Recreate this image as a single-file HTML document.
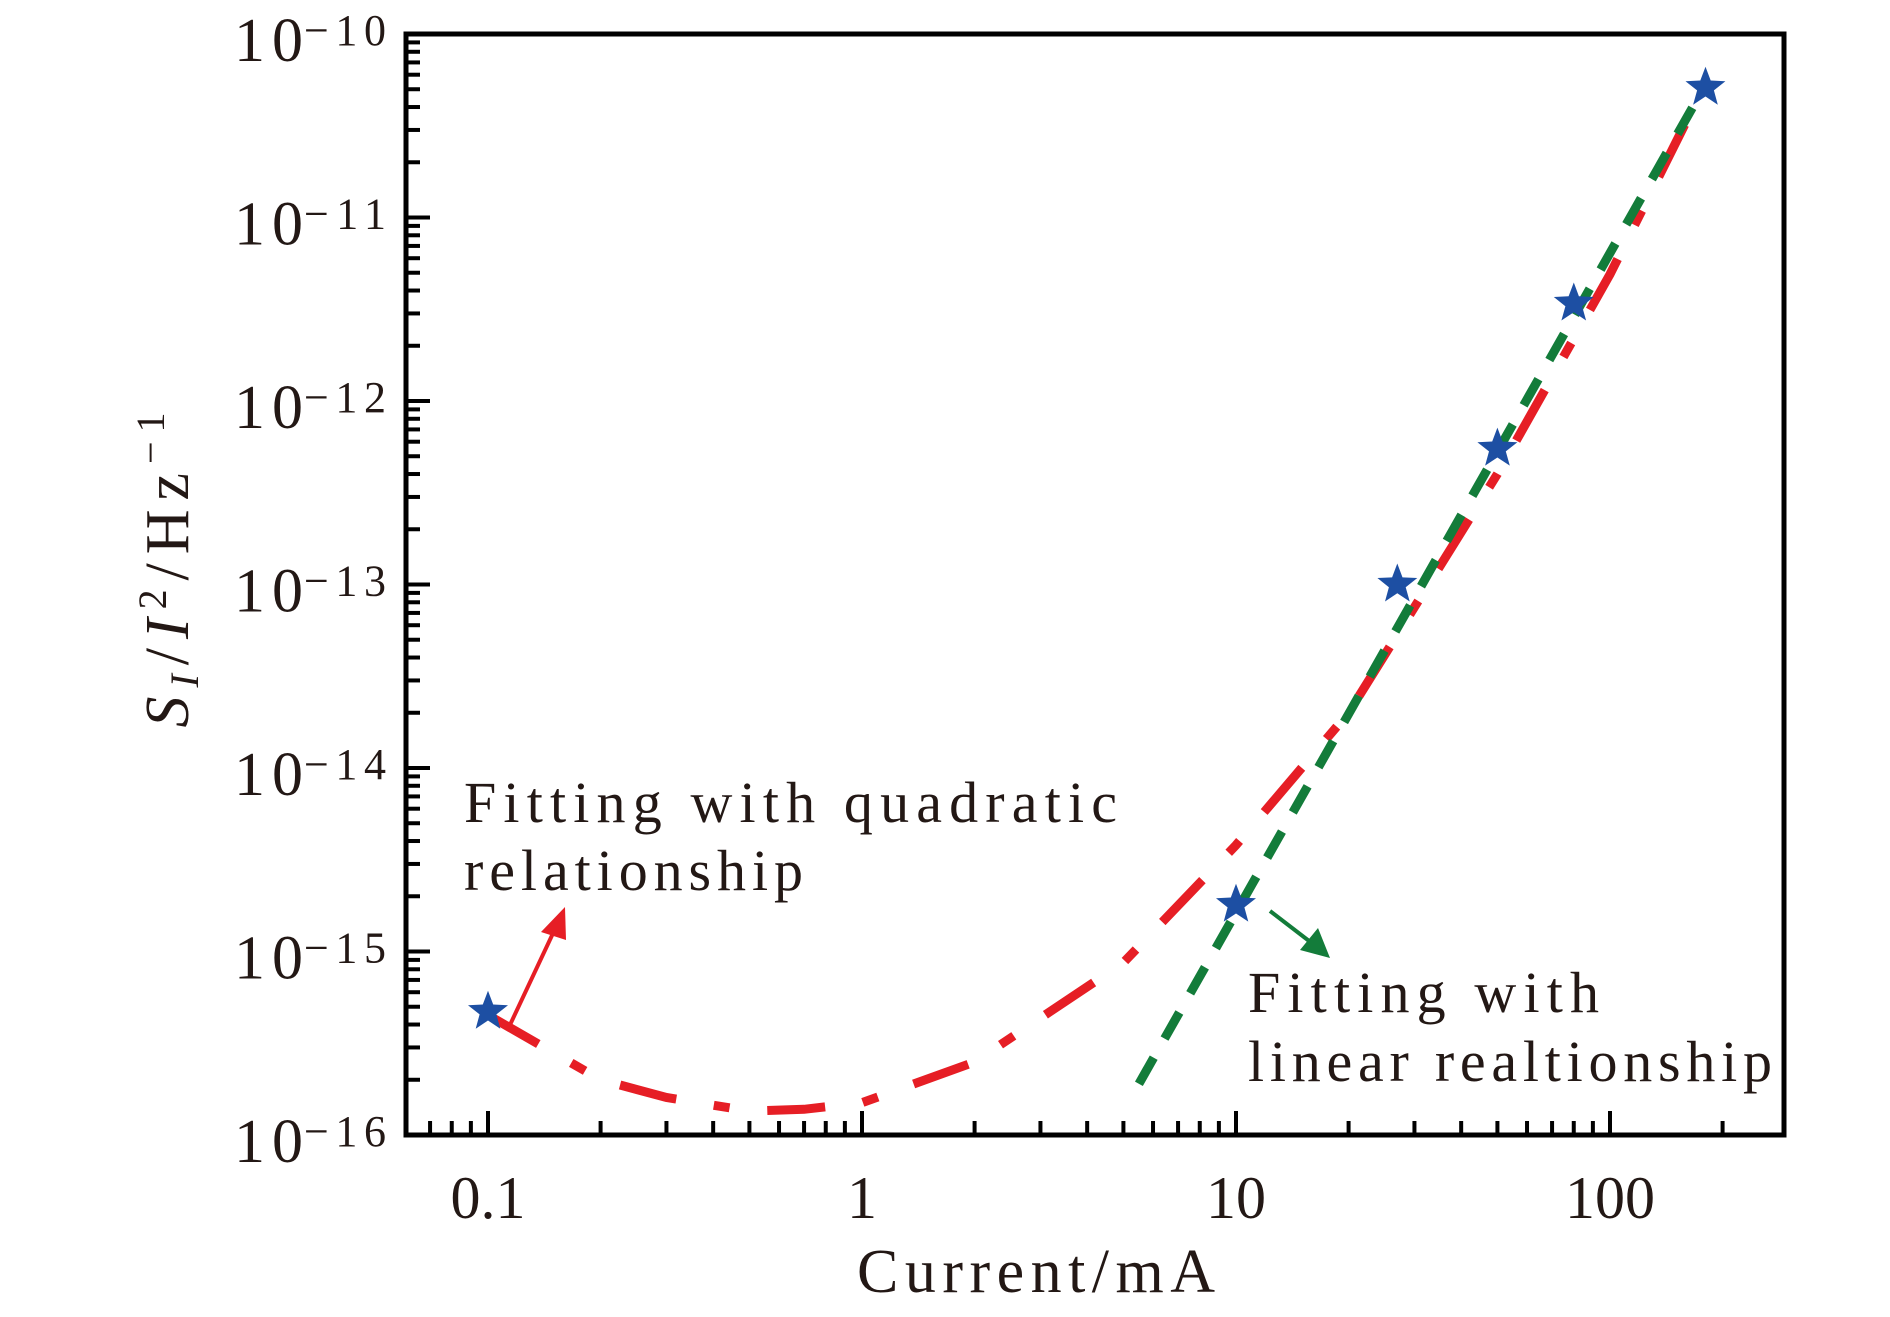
<!DOCTYPE html>
<html><head><meta charset="utf-8"><style>
body{margin:0;background:#fff}
svg text{font-family:"Liberation Serif",serif;fill:#231815}
</style></head><body>
<svg id="chart" width="1890" height="1312" viewBox="0 0 1890 1312" xmlns="http://www.w3.org/2000/svg">
<g id="frame"></g>
<g id="ticks"></g>
<g id="labels"></g>
<g id="series"></g>
<text transform="translate(188,570) rotate(-90)" text-anchor="middle" font-size="62" textLength="315" lengthAdjust="spacing"><tspan font-style="italic">S</tspan><tspan font-style="italic" font-size="40" dy="10">I</tspan><tspan dy="-10">/</tspan><tspan font-style="italic">I</tspan><tspan font-size="40" dy="-22">2</tspan><tspan dy="22">/Hz</tspan><tspan font-size="40" dy="-24">−1</tspan></text>
<text x="857" y="1292" font-size="62" textLength="358" lengthAdjust="spacing">Current/mA</text>
<text font-size="58" x="464" y="822" textLength="653" lengthAdjust="spacing">Fitting with quadratic</text>
<text font-size="58" x="464" y="890" textLength="339" lengthAdjust="spacing">relationship</text>
<text font-size="58" x="1248" y="1012" textLength="351" lengthAdjust="spacing">Fitting with</text>
<text font-size="58" x="1248" y="1081" textLength="524" lengthAdjust="spacing">linear realtionship</text>
<g>
<line x1="509" y1="1027" x2="555" y2="929" stroke="#e61e25" stroke-width="4"/>
<polygon points="565,907 541,932 566,940" fill="#e61e25"/>
</g>
<g>
<line x1="1270" y1="911" x2="1313" y2="944" stroke="#137c3a" stroke-width="4"/>
<polygon points="1330,958 1300,950 1318,928" fill="#137c3a"/>
</g>
</svg>
<script>
const xTicks=[0.1,1,10,100];
const xTickLabels=["0.1","1","10","100"];
const yExps=[-10,-11,-12,-13,-14,-15,-16];
const starX=[0.1,10,27,50,80,180];
const starY=[4.7e-16,1.8e-15,1.0e-13,5.5e-13,3.4e-12,5.1e-11];
const quadX=[0.1,0.2,0.3,0.5,0.7,1,2,5,10,20,50,100,180];
const quadY=[4.5e-16,2.0e-16,1.6e-16,1.35e-16,1.38e-16,1.5e-16,2.5e-16,8.7e-16,3.8e-15,2.0e-14,4.0e-13,4.9e-12,5.4e-11];
const linX=[5.5,180];
const linY=[1.9e-16,5.3e-11];

const L=406,R=1784,T=34,B=1135;
const X0=488,DX=374;
function sx(v){return X0+Math.log10(v/0.1)*DX;}
function sy(v){return T+(-10-Math.log10(v))*(B-T)/6;}
const NS="http://www.w3.org/2000/svg";
function mk(tag,attrs,parent){const e=document.createElementNS(NS,tag);for(const k in attrs)e.setAttribute(k,attrs[k]);document.getElementById(parent).appendChild(e);return e;}

const fr=mk('rect',{x:L,y:T,width:R-L,height:B-T,fill:'none',stroke:'#000','stroke-width':5},'frame');



for(let e=-16;e<-10;e++){
  for(let m=1;m<10;m++){
    const y=sy(m*Math.pow(10,e));
    const t=mk('line',{x1:L,x2:L+(m===1?24:14),y1:y,y2:y,stroke:'#000','stroke-width':4},'ticks');
    
    
  }
}
for(let d=-2;d<3;d++){
  for(let m=1;m<10;m++){
    const v=m*Math.pow(10,d);
    const x=sx(v);
    if(x<L+2||x>R-2)continue;
    const t=mk('line',{x1:x,x2:x,y1:B,y2:B-(m===1?24:14),stroke:'#000','stroke-width':4},'ticks');
    
    
  }
}
xTicks.forEach((v,i)=>{
  const t=mk('text',{x:sx(v),y:1218,'text-anchor':'middle','font-size':60},'labels');
  t.textContent=xTickLabels[i];
  
  
});
yExps.forEach(e=>{
  const y=sy(Math.pow(10,e))+27;
  const t=mk('text',{x:234,y:y,'font-size':62,textLength:69,lengthAdjust:'spacing'},'labels');
  t.textContent='10';
  
  
  const s=mk('text',{x:304,y:y-16,'font-size':44,textLength:82,lengthAdjust:'spacing'},'labels');
  s.textContent='−'+(-e);
  
  
});
const q=mk('path',{d:quadX.map((v,i)=>(i?'L':'M')+sx(v).toFixed(1)+','+sy(quadY[i]).toFixed(1)).join(''),fill:'none',stroke:'#e61e25','stroke-width':9,'stroke-dasharray':'58,38,16,38'},'series');


const g=mk('path',{d:linX.map((v,i)=>(i?'L':'M')+sx(v).toFixed(1)+','+sy(linY[i]).toFixed(1)).join(''),fill:'none',stroke:'#137c3a','stroke-width':9,'stroke-dasharray':'30,22'},'series');


function starPts(cx,cy,r){const p=[];for(let i=0;i<10;i++){const a=-Math.PI/2+i*Math.PI/5;const rr=i%2?r*0.42:r;p.push((cx+rr*Math.cos(a)).toFixed(1)+','+(cy+rr*Math.sin(a)).toFixed(1));}return p.join(' ');}
starX.forEach((v,i)=>{
  const s=mk('polygon',{points:starPts(sx(v),sy(starY[i]),21),fill:'#1d4fa3'},'series');
  
  
});
</script>
</body></html>
